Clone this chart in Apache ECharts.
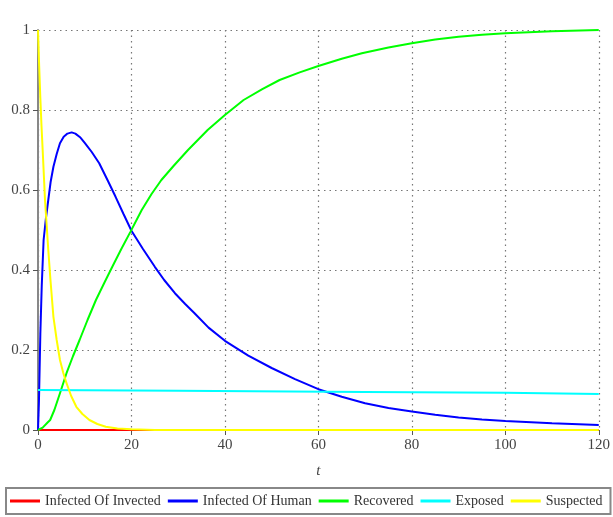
<!DOCTYPE html>
<html>
<head>
<meta charset="utf-8">
<script src="https://cdn.jsdelivr.net/npm/echarts@6/dist/echarts.min.js"></script>
<style>html,body{margin:0;padding:0;background:#fff}#c{width:613px;height:517px}</style>
</head>
<body>
<div id="c"></div>
<script>
const seriesNames = ['Infected Of Invected', 'Infected Of Human', 'Recovered', 'Exposed', 'Suspected'];
const seriesColors = ['#ff0000', '#0000ff', '#00ff00', '#00ffff', '#ffff00'];
const xTicks = [0, 20, 40, 60, 80, 100, 120];
const yTicks = [0, 0.2, 0.4, 0.6, 0.8, 1];

const tInvected = [0, 20, 40, 60, 80, 100, 120];
const invected = [0, 0, 0, 0, 0, 0, 0];

const tHuman = [0, 0.2, 0.5, 0.8, 1.2, 1.7, 2.2, 2.7, 3.3, 4, 4.7, 5.5, 6.3, 7.2, 8, 9, 10, 11.5, 13.1, 15, 16.6, 18.3, 20, 22.5, 25, 27, 29.3, 31.5, 33.5, 36.5, 40, 45, 50, 55, 60, 65, 70, 75, 80, 85, 90, 95, 100, 110, 120];
const human = [0, 0.07, 0.24, 0.36, 0.475, 0.53, 0.575, 0.62, 0.658, 0.69, 0.717, 0.733, 0.741, 0.744, 0.741, 0.732, 0.718, 0.695, 0.667, 0.622, 0.583, 0.54, 0.498, 0.452, 0.408, 0.375, 0.342, 0.315, 0.292, 0.256, 0.223, 0.186, 0.155, 0.127, 0.102, 0.083, 0.067, 0.055, 0.046, 0.038, 0.031, 0.026, 0.0225, 0.017, 0.0125];

const tRecovered = [0, 1, 2, 2.6, 3.5, 4.7, 6.1, 7.5, 8.9, 10.6, 12.4, 14.2, 15.9, 17.8, 19.8, 22.2, 24.3, 26.4, 29, 32.1, 34.2, 36.3, 40, 44, 48, 51.7, 56, 60, 65, 69.3, 75, 80, 85, 90, 95, 100, 110, 120];
const recovered = [0, 0.006, 0.018, 0.025, 0.05, 0.092, 0.142, 0.185, 0.225, 0.275, 0.325, 0.368, 0.408, 0.452, 0.496, 0.55, 0.59, 0.625, 0.66, 0.7, 0.725, 0.75, 0.7875, 0.825, 0.852, 0.875, 0.894, 0.91, 0.928, 0.942, 0.956, 0.967, 0.976, 0.983, 0.988, 0.992, 0.997, 1.0];

const tExposed = [0, 30, 70, 100, 120];
const exposed = [0.1, 0.098, 0.095, 0.093, 0.09];

const tSuspected = [0, 0.25, 0.5, 0.75, 1, 1.5, 2.2, 2.7, 3.3, 4, 4.7, 5.4, 6.1, 7.1, 8.2, 9.5, 11, 12.7, 14.5, 17, 20, 25, 120];
const suspected = [1.0, 0.91, 0.83, 0.76, 0.7, 0.575, 0.45, 0.37, 0.283, 0.225, 0.175, 0.143, 0.117, 0.085, 0.058, 0.04, 0.025, 0.015, 0.008, 0.004, 0.002, 0, 0];

const tArrays = [tInvected, tHuman, tRecovered, tExposed, tSuspected];
const vArrays = [invected, human, recovered, exposed, suspected];

const font = 'Liberation Serif';
const chart = echarts.init(document.getElementById('c'), null, {renderer: 'canvas'});
chart.setOption({
  animation: false,
  backgroundColor: '#fff',
  grid: {left: 38, right: 6, top: 30, bottom: 87},
  xAxis: {
    type: 'value', min: xTicks[0], max: xTicks[xTicks.length - 1], interval: xTicks[1] - xTicks[0],
    name: 't', nameLocation: 'middle', nameGap: 34,
    nameTextStyle: {fontFamily: font, fontStyle: 'italic', fontSize: 15, color: '#444'},
    axisLine: {lineStyle: {color: '#555', width: 1}},
    axisTick: {show: true, length: 5, lineStyle: {color: '#555'}},
    axisLabel: {fontFamily: font, fontSize: 15, color: '#444', margin: 8},
    splitLine: {show: true, lineStyle: {color: '#777', type: [1.5, 4], width: 1.2}}
  },
  yAxis: {
    type: 'value', min: yTicks[0], max: yTicks[yTicks.length - 1], interval: yTicks[1] - yTicks[0],
    axisLine: {show: true, lineStyle: {color: '#888', width: 2}},
    axisTick: {show: true, length: 5, lineStyle: {color: '#555'}},
    axisLabel: {fontFamily: font, fontSize: 15, color: '#444', margin: 8},
    splitLine: {show: true, lineStyle: {color: '#777', type: [1.5, 4], width: 1.2}}
  },
  legend: {
    data: seriesNames,
    left: 6, top: 488,
    padding: [6, 8, 6, 4],
    icon: 'rect',
    itemWidth: 30, itemHeight: 3, itemGap: 7,
    borderColor: '#888', borderWidth: 2,
    textStyle: {fontFamily: font, fontSize: 14, color: '#333', padding: [0, 0, 0, 0]}
  },
  series: seriesNames.map((name, i) => ({
    name: name,
    type: 'line',
    symbol: 'none',
    smooth: false,
    color: seriesColors[i],
    lineStyle: {width: 2, color: seriesColors[i]},
    data: tArrays[i].map((t, k) => [t, vArrays[i][k]])
  }))
});
</script>
</body>
</html>
